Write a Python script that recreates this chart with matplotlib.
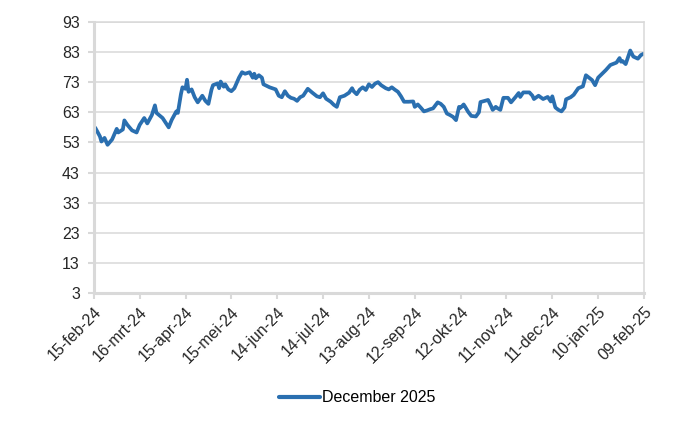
import matplotlib
matplotlib.use("Agg")
import matplotlib.pyplot as plt
import pandas as pd

plt.rcParams['font.family'] = ['Liberation Sans', 'DejaVu Sans']

dates = [
    "2024-02-15", "2024-02-16", "2024-02-19", "2024-02-20", "2024-02-22", "2024-02-24",
    "2024-02-27", "2024-03-01", "2024-03-02", "2024-03-05", "2024-03-06", "2024-03-08",
    "2024-03-11", "2024-03-14", "2024-03-16", "2024-03-19", "2024-03-21", "2024-03-24",
    "2024-03-26", "2024-03-27", "2024-03-31", "2024-04-04", "2024-04-06", "2024-04-09",
    "2024-04-10", "2024-04-12", "2024-04-13", "2024-04-15", "2024-04-16", "2024-04-17",
    "2024-04-19", "2024-04-21", "2024-04-23", "2024-04-26", "2024-04-28", "2024-04-30",
    "2024-05-02", "2024-05-03", "2024-05-06", "2024-05-07", "2024-05-08", "2024-05-10",
    "2024-05-11", "2024-05-13", "2024-05-15", "2024-05-17", "2024-05-20", "2024-05-22",
    "2024-05-24", "2024-05-27", "2024-05-29", "2024-05-30", "2024-05-31", "2024-06-02",
    "2024-06-04", "2024-06-05", "2024-06-09", "2024-06-13", "2024-06-15", "2024-06-17",
    "2024-06-19", "2024-06-21", "2024-06-23", "2024-06-25", "2024-06-27", "2024-06-29",
    "2024-07-01", "2024-07-04", "2024-07-07", "2024-07-10", "2024-07-12", "2024-07-14",
    "2024-07-16", "2024-07-19", "2024-07-21", "2024-07-23", "2024-07-25", "2024-07-28",
    "2024-07-31", "2024-08-02", "2024-08-03", "2024-08-05", "2024-08-07", "2024-08-09",
    "2024-08-11", "2024-08-13", "2024-08-15", "2024-08-17", "2024-08-19", "2024-08-21",
    "2024-08-24", "2024-08-26", "2024-08-28", "2024-08-30", "2024-09-01", "2024-09-03",
    "2024-09-05", "2024-09-08", "2024-09-11", "2024-09-12", "2024-09-14", "2024-09-16",
    "2024-09-18", "2024-09-20", "2024-09-22", "2024-09-24", "2024-09-27", "2024-09-29",
    "2024-10-01", "2024-10-03", "2024-10-05", "2024-10-07", "2024-10-09", "2024-10-11",
    "2024-10-12", "2024-10-14", "2024-10-15", "2024-10-17", "2024-10-19", "2024-10-22",
    "2024-10-24", "2024-10-25", "2024-10-28", "2024-10-30", "2024-11-01", "2024-11-02",
    "2024-11-04", "2024-11-05", "2024-11-07", "2024-11-09", "2024-11-12", "2024-11-14",
    "2024-11-16", "2024-11-17", "2024-11-19", "2024-11-20", "2024-11-22", "2024-11-26",
    "2024-11-28", "2024-11-29", "2024-12-02", "2024-12-05", "2024-12-08", "2024-12-10",
    "2024-12-11", "2024-12-13", "2024-12-15", "2024-12-17", "2024-12-19", "2024-12-20",
    "2024-12-23", "2024-12-25", "2024-12-28", "2024-12-31", "2025-01-02", "2025-01-04",
    "2025-01-06", "2025-01-08", "2025-01-10", "2025-01-12", "2025-01-15", "2025-01-18",
    "2025-01-22", "2025-01-24", "2025-01-25", "2025-01-26", "2025-01-28", "2025-01-31",
    "2025-02-02", "2025-02-05", "2025-02-07", "2025-02-09",
]

values = [
    58.3, 57.8, 55.0, 53.3, 54.5, 52.2,
    54.0, 57.5, 56.3, 57.3, 60.3, 58.8,
    57.0, 56.3, 58.8, 61.1, 59.3, 62.1,
    65.3, 62.8, 61.1, 58.0, 60.5, 63.3,
    62.8, 69.0, 71.3, 70.8, 73.8, 69.8,
    70.6, 68.0, 66.3, 68.5, 66.8, 65.8,
    70.5, 72.0, 72.6, 71.0, 73.2, 71.5,
    72.3, 70.6, 70.0, 71.0, 74.5, 76.3,
    75.8, 76.3, 74.5, 75.8, 74.3, 75.3,
    74.5, 72.3, 71.3, 70.6, 68.5, 68.0,
    70.0, 68.5, 67.8, 67.5, 66.8, 68.0,
    68.5, 70.8, 69.5, 68.3, 68.0, 69.3,
    67.5, 66.5, 65.5, 64.8, 68.0, 68.5,
    69.5, 71.0, 70.0, 69.0, 70.5, 71.3,
    70.4, 72.3, 71.4, 72.5, 73.0, 72.0,
    71.0, 70.6, 71.3, 70.5, 69.8, 68.3,
    66.5, 66.5, 66.6, 64.8, 65.6, 64.5,
    63.3, 63.6, 64.0, 64.3, 66.3, 65.8,
    64.8, 62.6, 62.1, 61.5, 60.4, 64.8,
    64.5, 65.6, 64.8, 63.1, 61.8, 61.6,
    63.0, 66.4, 66.8, 67.1, 65.0, 63.8,
    64.8, 64.4, 63.8, 67.8, 67.8, 66.3,
    67.5, 68.1, 69.4, 68.1, 69.6, 69.6,
    68.5, 67.4, 68.5, 67.4, 68.1, 66.6,
    68.3, 64.6, 63.8, 63.3, 64.6, 67.3,
    68.0, 68.8, 71.0, 71.6, 75.3, 74.5,
    73.7, 72.0, 74.5, 75.5, 77.0, 78.7,
    79.5, 81.0, 79.8, 80.0, 79.0, 83.5,
    81.5, 80.8, 82.0, 82.5,
]

series_name = "December 2025"

tick_dates = ["2024-02-15", "2024-03-16", "2024-04-15", "2024-05-15", "2024-06-14",
              "2024-07-14", "2024-08-13", "2024-09-12", "2024-10-12", "2024-11-11",
              "2024-12-11", "2025-01-10", "2025-02-09"]
tick_labels = ["15-feb-24", "16-mrt-24", "15-apr-24", "15-mei-24", "14-jun-24",
               "14-jul-24", "13-aug-24", "12-sep-24", "12-okt-24", "11-nov-24",
               "11-dec-24", "10-jan-25", "09-feb-25"]
y_ticks = [3, 13, 23, 33, 43, 53, 63, 73, 83, 93]

x = pd.to_datetime(dates)
xt = pd.to_datetime(tick_dates)

fig = plt.figure(figsize=(7, 4.3), dpi=100)
ax = fig.add_axes([0.134, 0.3186, 0.786, 0.6304])

grid_c = "#d9d9d9"
ax.plot(x, values, color="#2a6fb0", lw=2.7, solid_joinstyle="round",
        solid_capstyle="round", label=series_name)

ax.set_xlim(xt[0], xt[-1])
ax.set_ylim(3, 93)
ax.set_yticks(y_ticks)
ax.set_xticks(xt)
ax.set_xticklabels(tick_labels, rotation=45, ha="right", va="top", rotation_mode="anchor")
ax.yaxis.grid(True, color=grid_c, lw=1.1)
ax.set_axisbelow(True)

for s in ["left", "bottom"]:
    ax.spines[s].set_color(grid_c)
    ax.spines[s].set_linewidth(2.2)
for s in ["top", "right"]:
    ax.spines[s].set_color(grid_c)
    ax.spines[s].set_linewidth(1.1)

ax.tick_params(axis="both", colors=grid_c, labelcolor="#262626", labelsize=11.5, width=1.5, length=4)
ax.tick_params(axis="x", pad=4)
ax.tick_params(axis="y", pad=6)

leg = fig.legend(loc="center", bbox_to_anchor=(0.51, 0.075), frameon=False,
                 fontsize=11.5, handlelength=2.6, handletextpad=0.1)
for line in leg.get_lines():
    line.set_linewidth(3)

fig.savefig("out.png", dpi=100)
